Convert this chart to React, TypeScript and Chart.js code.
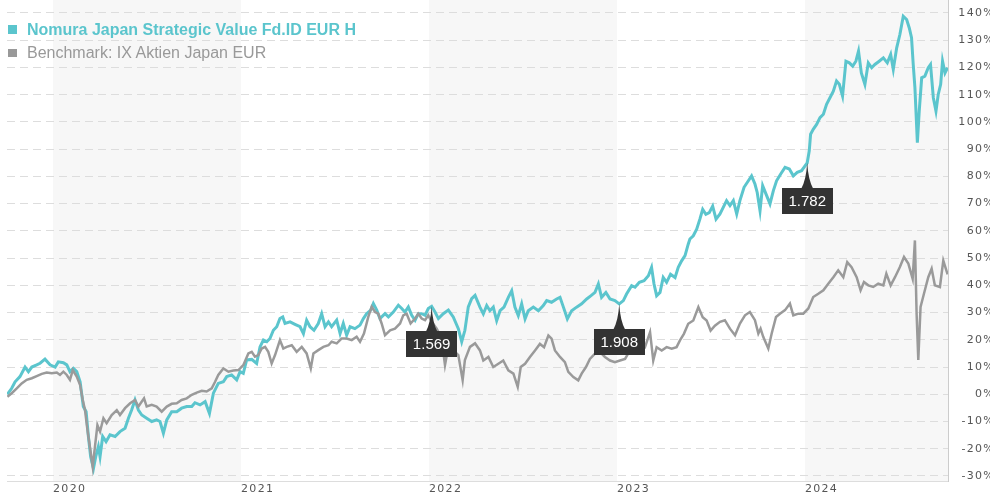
import React, { useEffect, useRef } from 'react';
import { Chart, registerables } from 'chart.js';

Chart.register(...registerables);

const FUND_NAME = 'Nomura Japan Strategic Value Fd.ID EUR H';
const BENCH_NAME = 'Benchmark: IX Aktien Japan EUR';
const FUND_COLOR = '#5bc5cd';
const BENCH_COLOR = '#9a9a9a';

const yearTicks = [2020, 2021, 2022, 2023, 2024];
const shadedYears = [2020, 2022, 2024];
const percentTicks = [-30, -20, -10, 0, 10, 20, 30, 40, 50, 60, 70, 80, 90, 100, 110, 120, 130, 140];

const X_MIN = 2019.755;
const X_MAX = 2024.761;
const Y_MIN = -31.84;
const Y_MAX = 144.77;

const fundDates = [
  2019.757, 2019.780, 2019.798, 2019.824, 2019.851, 2019.869, 2019.887, 2019.913, 2019.931, 2019.957, 2019.984,
  2020.011, 2020.028, 2020.055, 2020.073, 2020.090, 2020.108, 2020.126, 2020.144, 2020.161, 2020.176,
  2020.188, 2020.200, 2020.215, 2020.227, 2020.241, 2020.250, 2020.264, 2020.282, 2020.303, 2020.330,
  2020.356, 2020.383, 2020.401, 2020.418, 2020.436, 2020.454, 2020.472, 2020.498, 2020.525, 2020.551,
  2020.569, 2020.587, 2020.605, 2020.631, 2020.658, 2020.684, 2020.711, 2020.738, 2020.755, 2020.782,
  2020.809, 2020.832, 2020.853, 2020.879, 2020.906, 2020.924, 2020.950, 2020.977, 2020.995,
  2021.012, 2021.030, 2021.057, 2021.083, 2021.101, 2021.119, 2021.137, 2021.154, 2021.172, 2021.190,
  2021.207, 2021.222, 2021.234, 2021.261, 2021.287, 2021.314, 2021.332, 2021.349, 2021.367, 2021.388,
  2021.411, 2021.429, 2021.447, 2021.465, 2021.482, 2021.509, 2021.527, 2021.544, 2021.562, 2021.580,
  2021.606, 2021.633, 2021.651, 2021.668, 2021.690, 2021.704, 2021.722, 2021.739, 2021.766, 2021.784,
  2021.810, 2021.837, 2021.855, 2021.872, 2021.890, 2021.908, 2021.926, 2021.943, 2021.961, 2021.979,
  2021.996,
  2022.014, 2022.032, 2022.050, 2022.076, 2022.103, 2022.129, 2022.156, 2022.174, 2022.191, 2022.209,
  2022.227, 2022.245, 2022.271, 2022.289, 2022.307, 2022.324, 2022.342, 2022.360, 2022.378, 2022.399,
  2022.422, 2022.440, 2022.457, 2022.475, 2022.493, 2022.511, 2022.528, 2022.555, 2022.582, 2022.608,
  2022.626, 2022.652, 2022.679, 2022.697, 2022.715, 2022.736, 2022.759, 2022.785, 2022.812, 2022.839,
  2022.862, 2022.883, 2022.901, 2022.918, 2022.941, 2022.963, 2022.989,
  2023.012, 2023.034, 2023.051, 2023.078, 2023.096, 2023.119, 2023.144, 2023.167, 2023.184, 2023.197,
  2023.211, 2023.229, 2023.246, 2023.264, 2023.285, 2023.309, 2023.326, 2023.344, 2023.362, 2023.379,
  2023.388, 2023.406, 2023.424, 2023.441, 2023.456, 2023.473, 2023.491, 2023.509, 2023.527, 2023.548,
  2023.566, 2023.583, 2023.601, 2023.619, 2023.637, 2023.654, 2023.676, 2023.699, 2023.716, 2023.734,
  2023.746, 2023.761, 2023.775, 2023.793, 2023.814, 2023.832, 2023.849, 2023.871, 2023.894, 2023.917,
  2023.938, 2023.959, 2023.982,
  2024.012, 2024.023, 2024.030, 2024.044, 2024.062, 2024.080, 2024.098, 2024.115, 2024.133, 2024.151,
  2024.168, 2024.183, 2024.200, 2024.218, 2024.236, 2024.254, 2024.271, 2024.285, 2024.300, 2024.319,
  2024.337, 2024.355, 2024.372, 2024.395, 2024.417, 2024.438, 2024.456, 2024.470, 2024.488, 2024.505,
  2024.523, 2024.541, 2024.555, 2024.567, 2024.576, 2024.585, 2024.598, 2024.608, 2024.621, 2024.638,
  2024.656, 2024.668, 2024.683, 2024.697, 2024.709, 2024.722, 2024.732, 2024.745, 2024.759,
];

const fundValues = [
  0, 2.2, 4.6, 6.5, 10, 8.3, 10, 10.8, 11.4, 12.9, 10.8,
  10, 11.9, 11.6, 10.8, 8.3, 9.5, 8.3, 4.6, -4.5, -6.4,
  -15.5, -22.9, -27.2, -22.9, -19.2, -22.9, -15.5, -17.4, -14.9, -15.5,
  -13.7, -12.5, -8.8, -5.8, -2.1, -5.8, -7.6, -8.8, -10, -9.4,
  -10, -14.3, -9.4, -6.4, -6.4, -5.1, -4.5, -4.5, -3.1, -3.9,
  -2.7, -7, 0.4, 4, 4.6, 6.5, 7.1, 5.3, 8.3,
  7.7, 12.6, 12.8, 11.3, 17.4, 19.9, 19.3, 20.5, 23.5, 24.8,
  27.8, 28.4, 26, 26.6, 25.7, 24.8, 22.3, 27.2, 24.8, 23.5,
  26, 29.6, 24.8, 26.6, 24.8, 27.2, 22.3, 26, 21.7, 24.8,
  24.1, 25.4, 27.8, 29.6, 30.9, 33.3, 30.9, 27.8, 29.6, 28.4,
  30.2, 32.7, 31.5, 30.2, 32.1, 29, 27.2, 29.6, 29.6, 29,
  31.5,
  32.3, 30.2, 27.8, 29.6, 30.9, 28.4, 24.1, 19.3, 23.5, 32.1,
  35.1, 36.3, 32, 29.5, 32.6, 30.7, 32, 27, 30.7, 32,
  35.6, 38, 32, 28.9, 33.2, 27.7, 30.7, 32, 30.7, 32.6,
  34.4, 33.8, 35, 35.6, 32, 27.7, 30.7, 32, 33.2, 35,
  36.2, 37.4, 40.5, 35.6, 37.4, 35, 34.4,
  33.2, 34.4, 36.8, 39.9, 39.3, 41.1, 41.7, 43.5, 46.6, 40.5,
  36.2, 37.4, 42.9, 41.1, 44.1, 42.9, 46.6, 49, 50.9, 55.1,
  57, 58.2, 60.6, 64.3, 67.9, 66.1, 66.7, 69.1, 64.3, 66.2,
  68.7, 71.1, 69.3, 71.1, 66.2, 71.1, 76, 78.4, 80.2, 77.2,
  74.1, 67.4, 76.6, 73.5, 69.9, 74.8, 78.4, 80.9, 83.3, 82.7,
  80.2, 81.5, 82.1,
  85, 89.4, 95.5, 97.3, 99.1, 101.6, 102.8, 106.5, 108.9, 111.3,
  115, 113.8, 109.5, 122.3, 121.7, 120.5, 122.3, 126, 118, 113.8,
  121.7, 119.9, 121.1, 122.3, 123.5, 121.7, 124.8, 119.3, 127.2, 132.1,
  138.8, 137.6, 134.5, 130.9, 121.1, 112.6, 92.4, 104, 116.2, 116.8,
  119.9, 121.1, 108.9, 104, 110.1, 113.8, 122.3, 118, 119.9,
];

const benchDates = [
  2019.757, 2019.780, 2019.807, 2019.833, 2019.860, 2019.887, 2019.913, 2019.940, 2019.966, 2019.993,
  2020.020, 2020.037, 2020.055, 2020.073, 2020.090, 2020.105, 2020.126, 2020.144, 2020.158, 2020.170,
  2020.183, 2020.197, 2020.211, 2020.223, 2020.236, 2020.250, 2020.268, 2020.285, 2020.312, 2020.339,
  2020.356, 2020.383, 2020.410, 2020.436, 2020.454, 2020.484, 2020.498, 2020.525, 2020.551, 2020.578,
  2020.605, 2020.631, 2020.658, 2020.684, 2020.711, 2020.738, 2020.764, 2020.791, 2020.817, 2020.844,
  2020.862, 2020.879, 2020.906, 2020.933, 2020.959, 2020.986, 2020.995,
  2021.012, 2021.039, 2021.057, 2021.074, 2021.092, 2021.110, 2021.128, 2021.145, 2021.163, 2021.181,
  2021.207, 2021.225, 2021.243, 2021.270, 2021.296, 2021.323, 2021.349, 2021.371, 2021.385, 2021.411,
  2021.438, 2021.465, 2021.482, 2021.509, 2021.536, 2021.562, 2021.589, 2021.615, 2021.633, 2021.654,
  2021.677, 2021.695, 2021.713, 2021.730, 2021.748, 2021.766, 2021.793, 2021.819, 2021.846, 2021.863,
  2021.881, 2021.902, 2021.926, 2021.943, 2021.961, 2021.979, 2021.996,
  2022.014, 2022.041, 2022.067, 2022.085, 2022.103, 2022.129, 2022.156, 2022.179, 2022.191, 2022.218,
  2022.245, 2022.271, 2022.289, 2022.316, 2022.342, 2022.369, 2022.395, 2022.422, 2022.449, 2022.472,
  2022.488, 2022.511, 2022.537, 2022.564, 2022.590, 2022.612, 2022.635, 2022.652, 2022.670, 2022.697,
  2022.723, 2022.741, 2022.768, 2022.794, 2022.812, 2022.835, 2022.856, 2022.883, 2022.910, 2022.936,
  2022.963, 2022.989,
  2023.016, 2023.043, 2023.069, 2023.096, 2023.122, 2023.149, 2023.176, 2023.193, 2023.211, 2023.238,
  2023.264, 2023.291, 2023.317, 2023.335, 2023.356, 2023.379, 2023.406, 2023.433, 2023.456, 2023.477,
  2023.498, 2023.521, 2023.548, 2023.574, 2023.601, 2023.628, 2023.654, 2023.681, 2023.707, 2023.734,
  2023.752, 2023.764, 2023.778, 2023.805, 2023.823, 2023.846, 2023.867, 2023.894, 2023.920, 2023.938,
  2023.965, 2023.991,
  2024.018, 2024.044, 2024.071, 2024.098, 2024.124, 2024.151, 2024.177, 2024.204, 2024.225, 2024.248,
  2024.275, 2024.296, 2024.314, 2024.337, 2024.363, 2024.390, 2024.417, 2024.433, 2024.456, 2024.479,
  2024.505, 2024.527, 2024.550, 2024.573, 2024.585, 2024.594, 2024.603, 2024.615, 2024.633, 2024.656,
  2024.674, 2024.691, 2024.718, 2024.736, 2024.759,
];

const benchValues = [
  -0.9, 0.4, 2.2, 4, 5.3, 5.9, 6.7, 7.5, 8, 7.7,
  8, 7.1, 8.3, 7.1, 5.3, 8.9, 6.5, 3.4, -2.1, -5.8,
  -13.1, -19.8, -26.6, -19.2, -11.3, -13.7, -8.8, -10.6, -7.6, -5.8,
  -7.6, -5.1, -3.3, -2.1, -4.5, -1.5, -4.5, -3.9, -4.5, -6.4,
  -4.5, -3.5, -3.3, -2.1, -1.5, -0.2, 0.6, 1.3, 1, 2.2,
  4.6, 7.1, 9.5, 8.3, 8.7, 8.9, 9.5,
  10.7, 15, 15.6, 13.8, 14.4, 16.8, 17.4, 15.6, 11.3, 14.4,
  19.9, 16.8, 17.4, 18, 15.6, 17.4, 15, 9.5, 15, 16.2,
  17.4, 18, 19.3, 18.7, 20.5, 20.5, 19.9, 21.1, 19.3, 22.3,
  28.4, 32.1, 30.2, 29.6, 26, 21.7, 23.5, 24.1, 26, 29,
  29.6, 26, 27.8, 29.6, 27.8, 27.2, 29,
  26.6, 24.1, 20.5, 10.7, 17.4, 16.2, 14.4, 5.2, 12.6, 17.4,
  18.7, 16.1, 12.4, 13.7, 10, 11.2, 12.4, 8.8, 7.6, 2.7,
  10, 11.2, 13.7, 16.1, 18.5, 17.3, 21.6, 20.4, 16.1, 13.7,
  11.8, 8.2, 6.3, 5.1, 7.6, 10, 13, 14.9, 15.5, 13.7,
  12.4, 11.8,
  12.4, 13, 16.1, 16.7, 18.5, 17.3, 22.8, 12.4, 17.3, 16.1,
  17.3, 16.7, 17.3, 19.8, 22.2, 25.9, 27.1, 32, 28.3, 27.1,
  23.4, 25.2, 26.6, 27.2, 24.1, 21.7, 26, 29, 30.2, 27.2,
  22.3, 24.1, 21.1, 16.8, 22.3, 28.4, 29.6, 30.9, 33.3, 29,
  29.6, 29.6,
  31.5, 35.7, 36.9, 38.2, 40.6, 43, 45.5, 43, 48.5, 46.7,
  43, 38.2, 41.2, 40, 39.4, 40.6, 40, 44.3, 40, 43,
  46.7, 50.4, 48, 42.4, 56.5, 29.6, 12.6, 32.1, 36.9, 43,
  46.1, 40, 39.4, 49.1, 44,
];

const markerDates = [2022.014, 2023.012, 2024.012];
const markerLabels = ['1.569', '1.908', '1.782'];

const AXIS_FONT = '"DejaVu Sans", Verdana, sans-serif';

const letterSpacingPlugin = {
  id: 'letterSpacing',
  beforeLayout(chart: any) {
    chart.ctx.letterSpacing = '1.3px';
  },
  beforeDraw(chart: any) {
    chart.ctx.letterSpacing = '1.3px';
  },
};

const bandsPlugin = {
  id: 'yearBands',
  beforeDraw(chart: any) {
    const { ctx, chartArea, scales } = chart;
    const x = scales.x;
    ctx.save();
    ctx.fillStyle = '#f7f7f7';
    shadedYears.forEach((yr) => {
      const l = Math.max(x.getPixelForValue(yr), chartArea.left);
      const r = Math.min(x.getPixelForValue(yr + 1), chartArea.right);
      if (r > l) ctx.fillRect(l, chartArea.top, r - l, chartArea.bottom - chartArea.top);
    });
    ctx.restore();
  },
};

const markersPlugin = {
  id: 'markers',
  afterDatasetsDraw(chart: any) {
    const { ctx, scales } = chart;
    const x = scales.x;
    const y = scales.y;
    ctx.save();
    ctx.letterSpacing = '0px';
    markerDates.forEach((d, i) => {
      const idx = fundDates.indexOf(d);
      if (idx < 0) return;
      const px = x.getPixelForValue(d);
      const py = y.getPixelForValue(fundValues[idx]);
      const w = 51;
      const h = 26;
      const boxTop = py + 25;
      ctx.fillStyle = '#333333';
      ctx.beginPath();
      ctx.moveTo(px, py);
      ctx.quadraticCurveTo(px + 1, boxTop - 8, px + 6, boxTop + 1);
      ctx.lineTo(px - 6, boxTop + 1);
      ctx.quadraticCurveTo(px - 1, boxTop - 8, px, py);
      ctx.closePath();
      ctx.fill();
      ctx.fillRect(Math.round(px - w / 2), Math.round(boxTop), w, h);
      ctx.fillStyle = '#ffffff';
      ctx.font = '15px "Liberation Sans", Arial, sans-serif';
      ctx.textAlign = 'center';
      ctx.textBaseline = 'middle';
      ctx.fillText(markerLabels[i], px, Math.round(boxTop) + h / 2 + 1);
    });
    ctx.restore();
  },
};

export default function App() {
  const canvasRef = useRef<HTMLCanvasElement | null>(null);

  useEffect(() => {
    const canvas = canvasRef.current;
    if (!canvas) return;
    const chart = new Chart(canvas, {
      type: 'line',
      data: {
        datasets: [
          {
            label: BENCH_NAME,
            data: benchDates.map((d, i) => ({ x: d, y: benchValues[i] })),
            borderColor: BENCH_COLOR,
            borderWidth: 2.5,
            pointRadius: 0,
            tension: 0,
            fill: false,
            order: 0,
          },
          {
            label: FUND_NAME,
            data: fundDates.map((d, i) => ({ x: d, y: fundValues[i] })),
            borderColor: FUND_COLOR,
            borderWidth: 3,
            pointRadius: 0,
            tension: 0,
            fill: false,
            order: 1,
          },
        ],
      },
      options: {
        responsive: false,
        animation: false,
        devicePixelRatio: 1,
        events: [],
        layout: { padding: { left: 7, top: 0, right: 5, bottom: 0 } },
        plugins: {
          legend: { display: false },
          tooltip: { enabled: false },
        },
        scales: {
          x: {
            type: 'linear',
            min: X_MIN,
            max: X_MAX,
            afterBuildTicks: (s: any) => {
              s.ticks = yearTicks.map((v) => ({ value: v }));
            },
            afterFit: (s: any) => {
              s.height = 19;
              s.paddingLeft = 0;
              s.paddingRight = 0;
            },
            grid: { display: false, drawTicks: false },
            border: { display: true, color: '#dddddd', width: 1 },
            ticks: {
              align: 'start',
              maxRotation: 0,
              minRotation: 0,
              autoSkip: false,
              padding: 2,
              color: '#555555',
              font: { family: AXIS_FONT, size: 11 },
              callback: (v: any) => String(v),
            },
          },
          y: {
            type: 'linear',
            position: 'right',
            min: Y_MIN,
            max: Y_MAX,
            afterBuildTicks: (s: any) => {
              s.ticks = percentTicks.map((v) => ({ value: v }));
            },
            afterFit: (s: any) => {
              s.width = 47;
              s.paddingTop = 0;
              s.paddingBottom = 0;
            },
            grid: { color: '#dddddd', lineWidth: 1, drawTicks: false },
            border: { display: true, color: '#cccccc', width: 1, dash: [8, 5] },
            ticks: {
              crossAlign: 'far',
              padding: 5,
              color: '#555555',
              font: { family: AXIS_FONT, size: 11 },
              callback: (v: any) => `${v}%`,
            },
          },
        },
      } as any,
      plugins: [letterSpacingPlugin, bandsPlugin, markersPlugin],
    });
    return () => chart.destroy();
  }, []);

  const legendText = {
    position: 'absolute' as const,
    left: 27,
    fontFamily: '"Liberation Sans", Arial, sans-serif',
    fontSize: 16,
    lineHeight: '16px',
    whiteSpace: 'nowrap' as const,
  };

  return (
    <div
      style={{
        position: 'absolute',
        left: 0,
        top: 0,
        width: 990,
        height: 500,
        overflow: 'hidden',
        background: '#ffffff',
      }}
    >
      <canvas ref={canvasRef} width={1000} height={500} style={{ display: 'block' }} />
      <div style={{ position: 'absolute', left: 8, top: 25, width: 9, height: 9, background: FUND_COLOR }} />
      <div style={{ ...legendText, top: 21.5, color: FUND_COLOR, fontWeight: 'bold' }}>{FUND_NAME}</div>
      <div style={{ position: 'absolute', left: 8, top: 49, width: 9, height: 8, background: '#999999' }} />
      <div style={{ ...legendText, top: 45, color: '#999999' }}>{BENCH_NAME}</div>
    </div>
  );
}
